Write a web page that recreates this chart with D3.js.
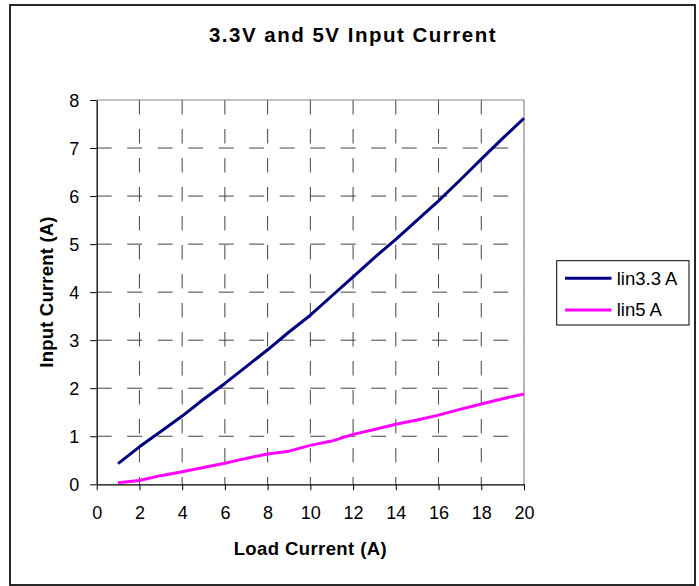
<!DOCTYPE html>
<html>
<head>
<meta charset="utf-8">
<script src="https://cdn.jsdelivr.net/npm/d3@7"></script>
<style>
  html, body { margin: 0; padding: 0; background: #fff; }
  svg { display: block; font-family: "Liberation Sans", Arial, sans-serif; }
</style>
</head>
<body>
<svg id="chart" width="699" height="586"></svg>
<script>
const loadCurrent = [1, 2, 3, 4, 5, 6, 7, 8, 9, 10, 11, 12, 13, 14, 15, 16, 17, 18, 19, 20];
const lin33 = [0.43, 0.78, 1.10, 1.42, 1.77, 2.10, 2.45, 2.80, 3.17, 3.52, 3.92, 4.32, 4.72, 5.10, 5.50, 5.90, 6.33, 6.77, 7.20, 7.62];
const lin5  = [0.03, 0.08, 0.18, 0.26, 0.35, 0.44, 0.54, 0.63, 0.69, 0.81, 0.90, 1.04, 1.14, 1.25, 1.34, 1.44, 1.56, 1.67, 1.78, 1.88];
const xTicks = [0, 2, 4, 6, 8, 10, 12, 14, 16, 18, 20];
const yTicks = [0, 1, 2, 3, 4, 5, 6, 7, 8];
const seriesNames = ["lin3.3 A", "lin5 A"];
const seriesColors = ["#000080", "#FF00FF"];
const titleText = "3.3V and 5V Input Current";
const xTitle = "Load Current (A)";
const yTitle = "Input Current (A)";

const svg = d3.select("#chart");
const L = 96.7, R = 524, T = 100, B = 484.3;
const x = d3.scaleLinear().domain([0, 20]).range([L, R]);
const y = d3.scaleLinear().domain([0, 8]).range([B, T]);

// outer frame
svg.append("rect").attr("x", 10).attr("y", 5).attr("width", 685).attr("height", 580)
  .attr("fill", "#fff").attr("stroke", "#111").attr("stroke-width", 1.8);

// title
svg.append("text").attr("x", 353).attr("y", 42.3).attr("text-anchor", "middle")
  .attr("font-size", 20.5).attr("font-weight", "bold").attr("letter-spacing", 1.5)
  .text(titleText);

// gridlines
const grid = svg.append("g");
grid.selectAll("line.h").data(yTicks.filter(d => d > 0 && d < 8)).join("line")
  .attr("x1", L).attr("x2", R).attr("y1", d => y(d)).attr("y2", d => y(d))
  .attr("stroke", "#444").attr("stroke-width", 1).attr("stroke-dasharray", "15,15.5");
grid.selectAll("line.v").data(xTicks.filter(d => d > 0 && d < 20)).join("line")
  .attr("x1", d => x(d)).attr("x2", d => x(d)).attr("y1", T).attr("y2", B)
  .attr("stroke", "#444").attr("stroke-width", 1).attr("stroke-dasharray", "14.5,14.5");

// plot border top/right
svg.append("line").attr("x1", L).attr("x2", R).attr("y1", T).attr("y2", T).attr("stroke", "#888").attr("stroke-width", 1.2);
svg.append("line").attr("x1", R).attr("x2", R).attr("y1", T).attr("y2", B).attr("stroke", "#888").attr("stroke-width", 1.2);

// axes
const xAxis = svg.append("g").attr("transform", `translate(0,${B})`)
  .call(d3.axisBottom(x).tickValues(xTicks).tickSize(6).tickPadding(8).tickSizeOuter(0));
const yAxis = svg.append("g").attr("transform", `translate(${L},0)`)
  .call(d3.axisLeft(y).tickValues(yTicks).tickSize(6.5).tickPadding(11).tickSizeOuter(0));
[xAxis, yAxis].forEach(g => {
  g.select(".domain").attr("stroke", "#000").attr("stroke-width", 1.3);
  g.selectAll(".tick line").attr("stroke", "#000").attr("stroke-width", 1);
  g.selectAll(".tick text").attr("font-size", 18).attr("fill", "#000")
    .attr("font-family", "Liberation Sans, Arial, sans-serif");
});
xAxis.selectAll(".tick text").attr("dy", null).attr("y", 35);
yAxis.selectAll(".tick text").attr("dy", "0.36em");

// axis titles
svg.append("text").attr("x", (L + R) / 2).attr("y", 555).attr("text-anchor", "middle")
  .attr("font-size", 18.5).attr("font-weight", "bold").attr("letter-spacing", 0.4).text(xTitle);
svg.append("text").attr("transform", "translate(52.5,292) rotate(-90)").attr("text-anchor", "middle")
  .attr("font-size", 18.5).attr("font-weight", "bold").attr("letter-spacing", 0.2).text(yTitle);

// lines
const line = d3.line().x(d => x(d[0])).y(d => y(d[1]));
[lin33, lin5].forEach((vals, i) => {
  svg.append("path").datum(loadCurrent.map((c, j) => [c, vals[j]]))
    .attr("d", line).attr("fill", "none").attr("stroke", seriesColors[i])
    .attr("stroke-width", 3).attr("stroke-linejoin", "round");
});

// legend
const lg = svg.append("g");
lg.append("rect").attr("x", 556.7).attr("y", 260.7).attr("width", 132.3).attr("height", 64.3)
  .attr("fill", "#fff").attr("stroke", "#000").attr("stroke-width", 1);
const legY = [278.3, 310];
seriesNames.forEach((n, i) => {
  lg.append("line").attr("x1", 565).attr("x2", 611.5).attr("y1", legY[i]).attr("y2", legY[i])
    .attr("stroke", seriesColors[i]).attr("stroke-width", 3);
  lg.append("text").attr("x", 616.7).attr("y", legY[i] + 6.3).attr("font-size", 18.5).text(n);
});
</script>
</body>
</html>
